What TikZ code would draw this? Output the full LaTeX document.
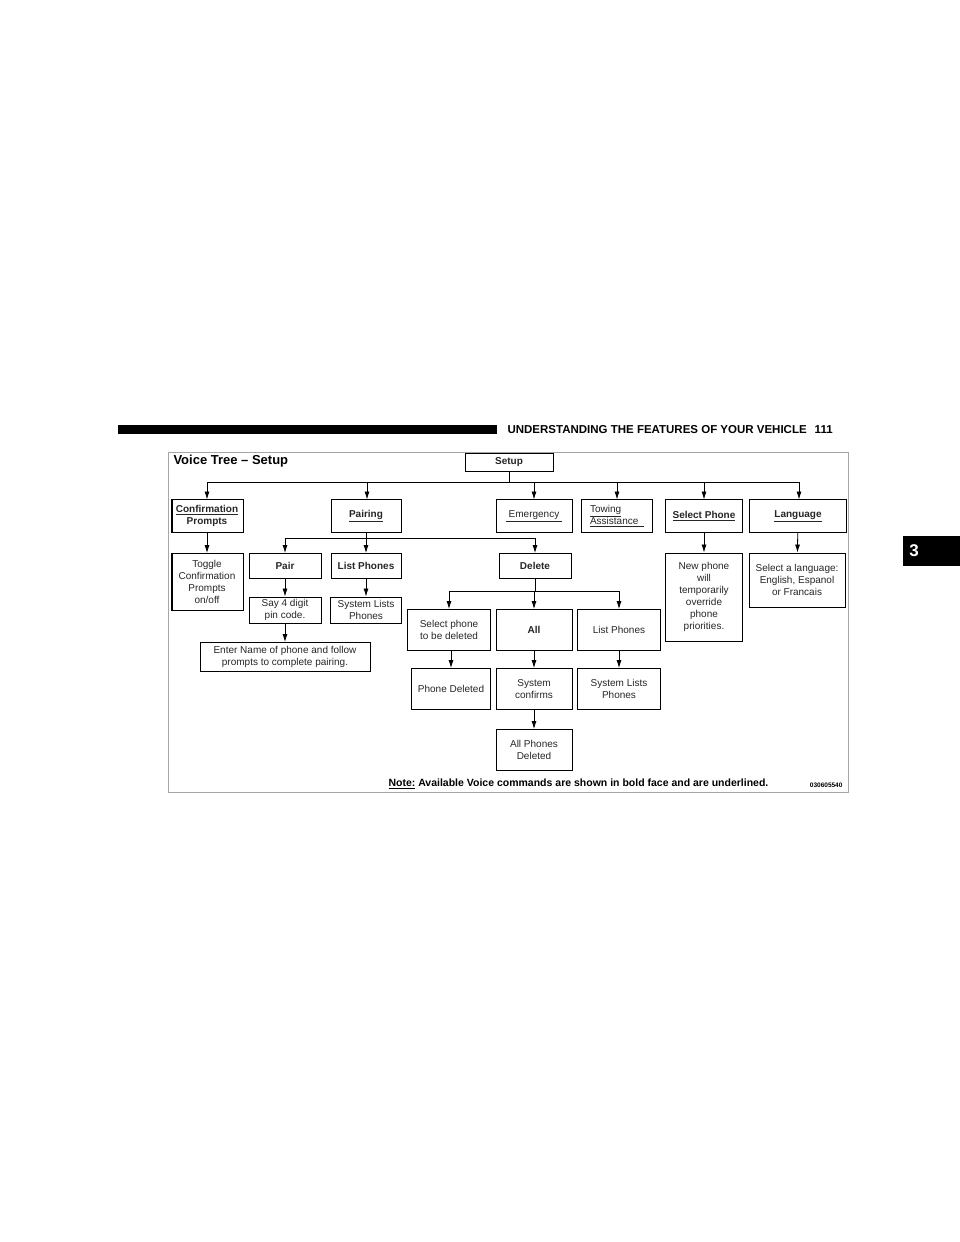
\documentclass[tikz,border=0pt]{standalone}
\usepackage{fontspec}
\setmainfont{Liberation Sans}
\usetikzlibrary{arrows.meta,positioning}

\tikzset{
  box/.style={draw, line width=0.9pt, align=center, inner sep=1pt,
    font=\fontsize{10}{12}\selectfont, text=black!85},
  cmd/.style={box, font=\fontsize{10}{12}\selectfont\bfseries},
  tip/.style={-{Latex[length=8pt,width=5pt]}, line width=0.8pt},
  bus/.style={line width=0.8pt}
}

\begin{document}
\begin{tikzpicture}[x=1pt,y=-1pt]
    \useasboundingbox (0,0) rectangle (960,1242);

    % Page header
    \fill (118,425) rectangle (497,434);
    \node[anchor=west, font=\fontsize{11.5}{13}\selectfont\bfseries] (head) at (504,430)
        {UNDERSTANDING THE FEATURES OF YOUR VEHICLE\hspace{8pt}111};
    \fill (903,536) rectangle (960,566);
    \node[white, font=\fontsize{17}{19}\selectfont\bfseries] (tab) at (914,551) {3};

    % Frame and title
    \draw[gray!70, line width=0.8pt] (168,452) rectangle (848,792);
    \node[anchor=west, font=\fontsize{13}{15}\selectfont\bfseries] (title) at (170,461)
        {Voice Tree -- Setup};

    % Root
    \node[cmd, minimum width=88pt, minimum height=18pt] (setup) at (509,462) {Setup};

    % Top row
    \node[cmd, minimum width=72pt, minimum height=33pt] (conf) at (207,516)
        {\underline{Confirmation}\\Prompts};
    \node[cmd, minimum width=70pt, minimum height=33pt] (pairing) at (366,516) {\underline{Pairing}};
    \node[box, minimum width=76pt, minimum height=33pt] (emerg) at (534,516) {\underline{\ Emergency\ }};
    \node[box, minimum width=71pt, minimum height=33pt, align=left] (towing) at (617,516)
        {\underline{Towing}\\\underline{Assistance\ \ }};
    \node[cmd, minimum width=77pt, minimum height=33pt] (selph) at (704,516) {\underline{Select Phone}};
    \node[cmd, minimum width=97pt, minimum height=33pt] (lang) at (798,516) {\underline{Language}};
    \draw[line width=2.5pt] (172,499) -- (172,532);

    % Bus from Setup
    \coordinate (sbus) at (509,482);
    \draw[bus] (setup.south) -- (sbus);
    \draw[bus] (207,482) -- (799,482);
    \foreach \x in {207, 367, 534, 617, 704, 799}
        \draw[tip] (\x,482) -- (\x,499.5);

    % Second row
    \node[box, minimum width=72pt, minimum height=57pt] (toggle) at (207,582)
        {Toggle\\Confirmation\\Prompts\\on/off};
    \draw[line width=2.5pt] (172,553) -- (172,610);
    \draw[tip] (conf) -- (toggle);

    \node[cmd, minimum width=72pt, minimum height=25pt] (pair) at (285,566) {Pair};
    \node[cmd, minimum width=70pt, minimum height=25pt] (listph) at (366,566) {List Phones};
    \node[cmd, minimum width=72pt, minimum height=25pt] (delete) at (535,566) {Delete};
    \draw[bus] (pairing) -- (366,538);
    \draw[bus] (285,538) -- (535,538);
    \draw[tip] (285,538) -- (pair);
    \draw[tip] (366,538) -- (listph);
    \draw[tip] (535,538) -- (delete);

    \node[box, minimum width=77pt, minimum height=88pt] (newph) at (704,597)
        {New phone\\will\\temporarily\\override\\phone\\priorities.};
    \node[box, minimum width=96pt, minimum height=54pt] (sellang) at (797,580)
        {Select a language:\\English, Espanol\\or Francais};
    \draw[tip] (selph) -- (newph);
    \draw[tip] (lang) -- (sellang);

    % Pairing branch
    \node[box, minimum width=72pt, minimum height=26pt] (pin) at (285,610) {Say 4 digit\\pin code.};
    \node[box, minimum width=71pt, minimum height=26pt] (syslist) at (366,610) {System Lists\\Phones};
    \node[box, minimum width=170pt, minimum height=29pt] (enter) at (285,657)
        {Enter Name of phone and follow\\prompts to complete pairing.};
    \draw[tip] (pair) -- (pin);
    \draw[tip] (listph) -- (syslist);
    \draw[tip] (pin) -- (enter);

    % Delete branch
    \node[box, minimum width=83pt, minimum height=41pt] (selphone) at (449,630) {Select phone\\to be deleted};
    \node[cmd, minimum width=76pt, minimum height=41pt] (all) at (534,630) {All};
    \node[box, minimum width=83pt, minimum height=41pt] (listph2) at (619,630) {List Phones};
    \draw[bus] (delete) -- (535,591);
    \draw[bus] (449,591) -- (619,591);
    \draw[tip] (449,591) -- (selphone);
    \draw[tip] (534,591) -- (all);
    \draw[tip] (619,591) -- (listph2);

    \node[box, minimum width=79pt, minimum height=41pt] (phdel) at (451,689) {Phone Deleted};
    \node[box, minimum width=76pt, minimum height=41pt] (sysconf) at (534,689) {System\\confirms};
    \node[box, minimum width=83pt, minimum height=41pt] (syslist2) at (619,689) {System Lists\\Phones};
    \draw[tip] (selphone.south -| phdel) -- (phdel);
    \draw[tip] (all) -- (sysconf);
    \draw[tip] (listph2) -- (syslist2);

    \node[box, minimum width=76pt, minimum height=41pt] (alldel) at (534,750) {All Phones\\Deleted};
    \draw[tip] (sysconf) -- (alldel);

    % Note
    \node[anchor=west, font=\fontsize{10.5}{12}\selectfont\bfseries] (note) at (385,784)
        {\underline{Note:} Available Voice commands are shown in bold face and are underlined.};
    \node[anchor=east, font=\fontsize{6.5}{8}\selectfont\bfseries] (code) at (846,785) {030605540};
\end{tikzpicture}
\end{document}
